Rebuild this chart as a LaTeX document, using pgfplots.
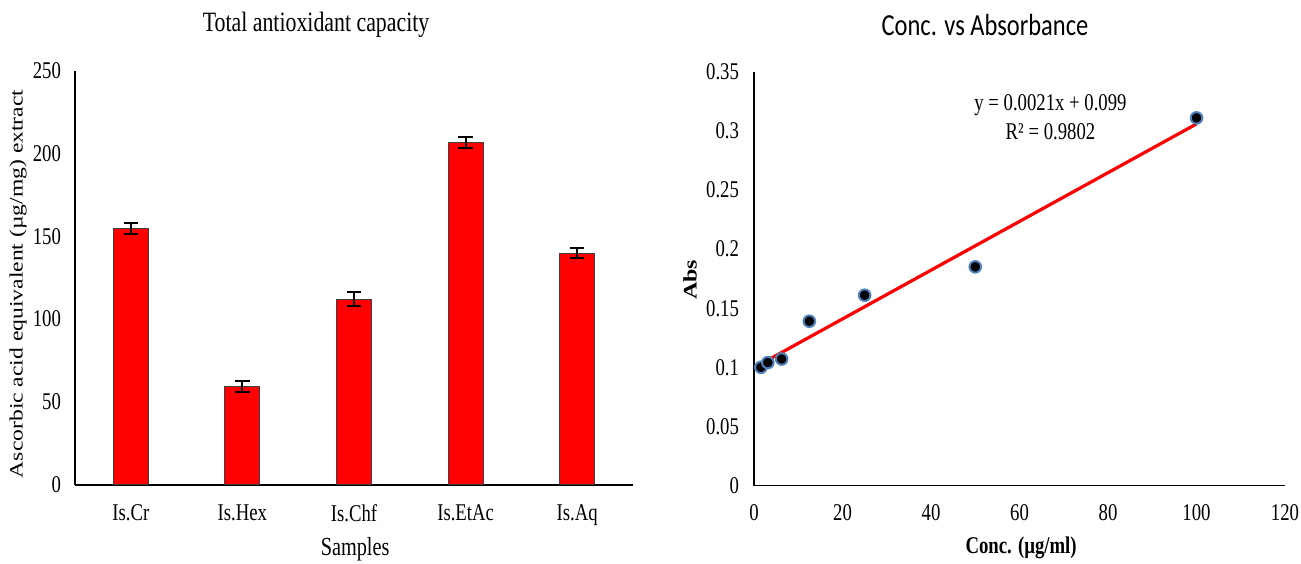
\documentclass[border=0pt]{standalone}
\usepackage{fontspec}
\setmainfont{Liberation Serif}
\newfontfamily\cond{Liberation Serif}[FakeStretch=0.78]
\newfontfamily\condsans{Carlito}[FakeStretch=0.8]
\usepackage{graphicx}
\usepackage{pgfplots}
\pgfplotsset{compat=1.18}
\definecolor{markedge}{RGB}{79,129,189}
\definecolor{barred}{RGB}{255,0,0}

\begin{document}
\begin{tikzpicture}
\useasboundingbox (0,0) rectangle (650.5pt,281.5pt);
% ---------------- left: bar chart ----------------
\begin{axis}[
  at={(37.5pt,39.15pt)}, anchor=south west,
  scale only axis, width=279pt, height=207pt,
  xmin=-0.5, xmax=4.5, ymin=0, ymax=250,
  enlargelimits=false,
  xtick={0,1,2,3,4},
  xticklabels={Is.Cr,Is.Hex,Is.Chf,Is.EtAc,Is.Aq},
  ytick={0,50,100,150,200,250},
  axis x line=bottom, axis y line=left,
  axis line style={-, line width=1.1pt, black},
  major tick length=0pt,
  /pgf/number format/assume math mode=true,
  tick label style={font=\cond\fontsize{12}{14}\selectfont},
  yticklabel style={xshift=-3.5pt},
  xticklabel style={yshift=-6.5pt},
  title={Total antioxidant capacity},
  every axis title shift=0pt,
  title style={font=\cond\fontsize{14}{16}\selectfont, at={(axis description cs:0.432,1.1106)}, anchor=center, yshift=0pt},
  xlabel={Samples},
  xlabel style={font=\cond\fontsize{13}{15}\selectfont, at={(axis description cs:0.502,-0.155)}, anchor=center},
  ylabel={\scalebox{1}[0.8]{Ascorbic acid equivalent (µg/mg) extract}},
  ylabel style={font=\fontsize{11.8}{14}\selectfont, at={(axis description cs:-0.102,0.485)}, anchor=center},
]
\addplot[ybar, bar width=17.5pt, fill=barred, draw=black!75, line width=0.5pt,
  error bars/.cd, y dir=both, y explicit,
  error bar style={line width=1pt, black},
  error mark options={rotate=90, mark size=3.6pt, line width=1pt, black}]
  coordinates {
  (0,154.8) +- (0,3.5)
  (1,59.4)  +- (0,3.5)
  (2,112.1) +- (0,4.0)
  (3,206.4) +- (0,3.3)
  (4,139.9) +- (0,2.8)
  };
\end{axis}
% ---------------- right: calibration ----------------
\begin{axis}[
  at={(377pt,38.75pt)}, anchor=south west,
  scale only axis, width=265.5pt, height=206.85pt,
  xmin=0, xmax=120, ymin=0, ymax=0.35,
  enlargelimits=false,
  xtick={0,20,40,60,80,100,120},
  ytick={0,0.05,0.1,0.15,0.2,0.25,0.3,0.35},
  axis x line=bottom, axis y line=left,
  axis line style={-, line width=0.7pt, black},
  major tick length=0pt,
  /pgf/number format/assume math mode=true,
  yticklabel style={/pgf/number format/fixed, /pgf/number format/precision=2, xshift=-4pt},
  xticklabel style={yshift=-6pt},
  tick label style={font=\cond\fontsize{12}{14}\selectfont},
  title={Conc. vs Absorbance},
  every axis title shift=0pt,
  title style={font=\condsans\fontsize{15.3}{18}\selectfont, at={(axis description cs:0.435,1.113)}, anchor=center, yshift=0pt},
  xlabel={Conc. (µg/ml)},
  xlabel style={font=\cond\bfseries\fontsize{12}{14}\selectfont, at={(axis description cs:0.503,-0.151)}, anchor=center},
  ylabel={\scalebox{1}[0.8]{Abs}},
  ylabel style={font=\bfseries\fontsize{12}{14}\selectfont, at={(axis description cs:-0.1205,0.497)}, anchor=center},
  clip=false,
]
\addplot[red, line width=1.6pt] coordinates {(1.5625,0.1029) (100,0.3059)};
\addplot[only marks, mark=*, mark size=2.9pt,
  mark options={fill=black, draw=markedge, line width=1pt}]
  coordinates {
  (1.5625,0.100)
  (3.125,0.104)
  (6.25,0.107)
  (12.5,0.139)
  (25,0.161)
  (50,0.185)
  (100,0.311)
  };
\node[font=\cond\fontsize{12}{14.5}\selectfont, align=center] at (axis cs:67,0.3115)
  {y = 0.0021x + 0.099\\R² = 0.9802};
\end{axis}
\end{tikzpicture}
\end{document}
